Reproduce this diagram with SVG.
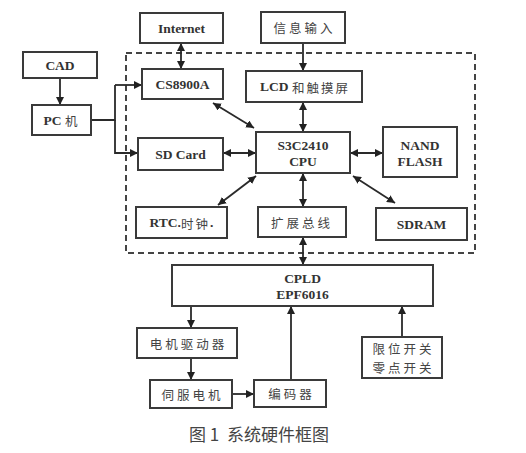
<svg xmlns="http://www.w3.org/2000/svg" width="526" height="453" viewBox="0 0 526 453">
<defs>
<marker id="ah" viewBox="0 0 10 10" refX="10" refY="5" markerWidth="8" markerHeight="8" markerUnits="userSpaceOnUse" orient="auto-start-reverse">
<path d="M0,0 L10,5 L0,10 z" fill="#222"/>
</marker>
<style>
.box{fill:#fff;stroke:#3a3a3a;stroke-width:2}
.t{font-family:"Liberation Serif","Noto Sans CJK SC",serif;font-size:13.5px;fill:#333;text-anchor:middle;dominant-baseline:central;font-weight:bold}
.c{font-family:"Noto Sans CJK SC",sans-serif;font-size:12.5px;fill:#444;text-anchor:middle;dominant-baseline:central;letter-spacing:3px}
.k{font-family:"Noto Sans CJK SC",sans-serif;font-weight:normal;font-size:12.5px;fill:#444;letter-spacing:2px}
.ln{fill:none;stroke:#2a2a2a;stroke-width:1.8}
.a1{marker-end:url(#ah)}
.a2{marker-start:url(#ah);marker-end:url(#ah)}
</style>
</defs>
<rect width="526" height="453" fill="#fff"/>
<rect x="126" y="53" width="349" height="200" fill="none" stroke="#444" stroke-width="2" stroke-dasharray="6,4"/>
<g id="connectors">
<line class="ln a1" x1="60" y1="78" x2="60" y2="105"/>
<polyline class="ln" points="91,120 115,120 115,85"/>
<polyline class="ln a1" points="115,85 142,85"/>
<polyline class="ln a1" points="115,120 115,153 138,153"/>
<line class="ln a2" x1="181" y1="43" x2="181" y2="69"/>
<line class="ln a1" x1="303" y1="43" x2="303" y2="71"/>
<line class="ln a2" x1="303" y1="102" x2="303" y2="132"/>
<line class="ln a2" x1="213" y1="103" x2="254" y2="128"/>
<line class="ln a2" x1="223" y1="153" x2="256" y2="153"/>
<line class="ln a2" x1="350" y1="153" x2="383" y2="153"/>
<line class="ln a2" x1="353" y1="176" x2="395" y2="203"/>
<line class="ln a2" x1="218" y1="205" x2="256" y2="176"/>
<line class="ln a2" x1="303" y1="173" x2="303" y2="207"/>
<line class="ln a2" x1="303" y1="237" x2="303" y2="265"/>
<line class="ln a1" x1="191" y1="306" x2="191" y2="328"/>
<line class="ln a1" x1="191" y1="358" x2="191" y2="380"/>
<line class="ln a1" x1="232" y1="394" x2="254" y2="394"/>
<line class="ln a1" x1="291" y1="380" x2="291" y2="306"/>
<line class="ln a1" x1="402" y1="337" x2="402" y2="306"/>
</g>
<g id="cad"><rect class="box" x="23" y="52" width="74" height="26"/><text class="t" x="60" y="65">CAD</text></g>
<g id="pc"><rect class="box" x="32" y="105" width="59" height="30"/><text class="t" x="61.5" y="120">PC <tspan class="k">机</tspan></text></g>
<g id="internet"><rect class="box" x="140" y="13" width="83" height="30"/><text class="t" x="181.5" y="28">Internet</text></g>
<g id="info"><rect class="box" x="261" y="12" width="84" height="31"/><text class="c" x="304.5" y="27.5">信息输入</text></g>
<g id="cs8900a"><rect class="box" x="142" y="69" width="81" height="30"/><text class="t" x="182.5" y="84">CS8900A</text></g>
<g id="lcd"><rect class="box" x="246" y="71" width="116" height="31"/><text class="t" x="305" y="86.5">LCD <tspan class="k">和触摸屏</tspan></text></g>
<g id="sdcard"><rect class="box" x="138" y="138" width="85" height="32"/><text class="t" x="180.5" y="154">SD Card</text></g>
<g id="cpu"><rect class="box" x="256" y="132" width="94" height="41"/><text class="t" x="303" y="145">S3C2410</text><text class="t" x="303" y="161">CPU</text></g>
<g id="nand"><rect class="box" x="383" y="127" width="74" height="50"/><text class="t" x="420" y="145">NAND</text><text class="t" x="420" y="161">FLASH</text></g>
<g id="rtc"><rect class="box" x="136" y="207" width="91" height="31"/><text class="t" x="181.5" y="222.5">RTC.<tspan class="k">时钟</tspan>.</text></g>
<g id="bus"><rect class="box" x="258" y="207" width="88" height="30"/><text class="c" x="302" y="222">扩展总线</text></g>
<g id="sdram"><rect class="box" x="376" y="208" width="91" height="32"/><text class="t" x="421.5" y="224">SDRAM</text></g>
<g id="cpld"><rect class="box" x="172" y="265" width="261" height="41"/><text class="t" x="302.5" y="278">CPLD</text><text class="t" x="302.5" y="294">EPF6016</text></g>
<g id="driver"><rect class="box" x="137" y="328" width="100" height="30"/><text class="c" x="188.5" y="343">电机驱动器</text></g>
<g id="servo"><rect class="box" x="150" y="380" width="82" height="28"/><text class="c" x="192.5" y="394">伺服电机</text></g>
<g id="encoder"><rect class="box" x="254" y="380" width="72" height="27"/><text class="c" x="291.5" y="393.5">编码器</text></g>
<g id="switch"><rect class="box" x="362" y="337" width="80" height="41"/><text class="c" x="403.5" y="348" font-size="12">限位开关</text><text class="c" x="403.5" y="367" font-size="12">零点开关</text></g>
<text x="259" y="433" font-family="Noto Sans CJK SC,sans-serif" font-size="17" fill="#444" text-anchor="middle" dominant-baseline="central" xml:space="preserve">图 1  系统硬件框图</text>
</svg>
